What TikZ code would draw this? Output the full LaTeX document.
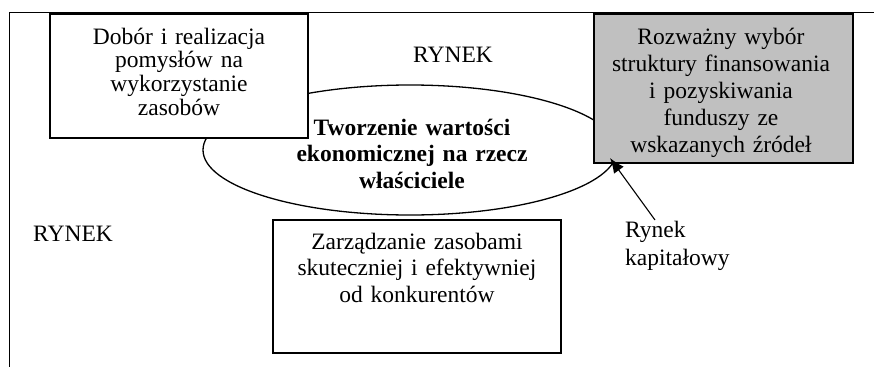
\documentclass[tikz,border=0pt]{standalone}
\usepackage{fontspec}
\setmainfont{Liberation Serif}
\usetikzlibrary{arrows.meta,shapes.geometric}
\definecolor{boxgrey}{RGB}{192,192,192}
\tikzset{
  frameline/.style={line width=1.6pt, black},
  boxw/.style={draw=black, line width=1.3pt, fill=white, inner sep=0pt},
  boxg/.style={boxw, fill=boxgrey},
  ring/.style={draw=black, line width=1.3pt, ellipse, inner sep=0pt},
  txt/.style={inner sep=0pt, anchor=base, align=center},
  connector/.style={line width=1.1pt, -{Latex[length=15pt,width=12pt]}}
}
\newcommand{\tsize}[1]{\fontsize{23.5}{#1}\selectfont}
\begin{document}
\begin{tikzpicture}[x=1pt,y=-1pt]
\useasboundingbox (0,0) rectangle (874,367);
% frame
\coordinate (ftl) at (9.5,12.5);
\coordinate (ftr) at (874,12.5);
\coordinate (fbl) at (9.5,367);
\draw[frameline] (ftr) -- (ftl) -- (fbl);
% ellipse
\node[ring, minimum width=414pt, minimum height=130pt] (ell) at (410,150) {};
% boxes
\node[boxw, minimum width=258pt, minimum height=124pt] (left) at (179,76) {};
\node[boxg, minimum width=259pt, minimum height=149pt] (right) at (723.5,88.5) {};
\node[boxw, minimum width=288pt, minimum height=133pt] (bottom) at (417,286.5) {};
% texts
\node[txt, text width=250pt, font=\tsize{23.7}] (lefttxt) at (179,44)
  {Dobór i realizacja\\pomysłów na\\wykorzystanie\\zasobów};
\node[txt, text width=255pt, font=\tsize{27}] (righttxt) at (721,44)
  {Rozważny wybór\\struktury finansowania\\i pozyskiwania\\funduszy ze\\wskazanych źródeł};
\node[txt, text width=280pt, font=\tsize{26.5}] (bottomtxt) at (417,249)
  {Zarządzanie zasobami\\skuteczniej i efektywniej\\od konkurentów};
\node[txt, text width=300pt, font=\bfseries\tsize{26.5}] (center) at (412,135)
  {Tworzenie wartości\\ekonomicznej na rzecz\\właściciele};
\node[inner sep=0pt, anchor=base west, font=\tsize{28}] (rynektop) at (413,62) {RYNEK};
\node[inner sep=0pt, anchor=base west, font=\tsize{28}] (rynekleft) at (33,241) {RYNEK};
\node[inner sep=0pt, anchor=base west, align=left, text width=150pt, font=\tsize{28}] (kap) at (625,237)
  {Rynek\\kapitałowy};
% arrow
\coordinate (astart) at (655,220);
\coordinate (atip) at (610,158);
\draw[connector] (astart) -- (atip);
\end{tikzpicture}
\end{document}
